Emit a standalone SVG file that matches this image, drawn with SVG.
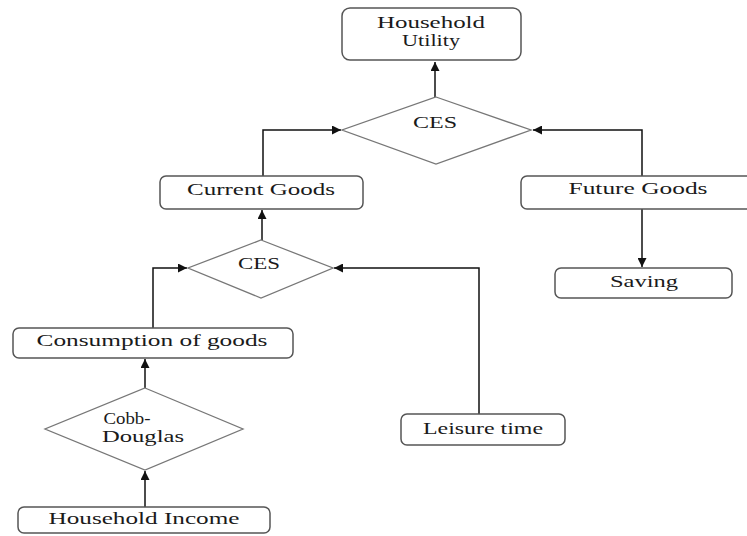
<svg xmlns="http://www.w3.org/2000/svg" width="747" height="536" viewBox="0 0 747 536">
<style>
.box{fill:#fff;stroke:#555;stroke-width:1.5}
.dia{fill:#fff;stroke:#777;stroke-width:1.3}
.t{font-family:"Liberation Serif","Times New Roman",serif;font-size:16px;fill:#1a1a1a;text-anchor:middle}
.c{fill:none;stroke:#111;stroke-width:1.5}
</style>
<defs>
<marker id="ah" viewBox="0 0 10 10" refX="10" refY="5" markerWidth="9" markerHeight="9" markerUnits="userSpaceOnUse" orient="auto">
<path d="M0,0 L10,5 L0,10 z" fill="#111"/>
</marker>
</defs>
<rect width="747" height="536" fill="#fff"/>
<g id="connectors">
<path class="c" d="M435,97 V62" marker-end="url(#ah)"/>
<path class="c" d="M263,176 V130 H341" marker-end="url(#ah)"/>
<path class="c" d="M642,176 V130 H533" marker-end="url(#ah)"/>
<path class="c" d="M262,240 V210" marker-end="url(#ah)"/>
<path class="c" d="M642,209 V267" marker-end="url(#ah)"/>
<path class="c" d="M153,328 V268 H187" marker-end="url(#ah)"/>
<path class="c" d="M479,414 V268 H334" marker-end="url(#ah)"/>
<path class="c" d="M145,388 V359" marker-end="url(#ah)"/>
<path class="c" d="M145,507 V471" marker-end="url(#ah)"/>
</g>
<g id="household-utility">
<rect class="box" x="342" y="8" width="179" height="52" rx="8"/>
<text class="t" x="431" y="28" textLength="108" lengthAdjust="spacingAndGlyphs">Household</text>
<text class="t" x="431" y="46" textLength="58" lengthAdjust="spacingAndGlyphs">Utility</text>
</g>
<g id="ces-top">
<polygon class="dia" points="436,97 531,130 436,164 342,130"/>
<text class="t" x="435" y="128" textLength="44" lengthAdjust="spacingAndGlyphs">CES</text>
</g>
<g id="current-goods">
<rect class="box" x="160" y="176" width="203" height="33" rx="6"/>
<text class="t" x="261" y="195" textLength="148" lengthAdjust="spacingAndGlyphs">Current Goods</text>
</g>
<g id="future-goods">
<rect class="box" x="521" y="176" width="240" height="33" rx="6"/>
<text class="t" x="638" y="194" textLength="139" lengthAdjust="spacingAndGlyphs">Future Goods</text>
</g>
<g id="saving">
<rect class="box" x="555" y="268" width="177" height="30" rx="6"/>
<text class="t" x="644" y="287" textLength="68" lengthAdjust="spacingAndGlyphs">Saving</text>
</g>
<g id="ces-mid">
<polygon class="dia" points="261,240 333,268 261,298 188,268"/>
<text class="t" x="259" y="269" textLength="42" lengthAdjust="spacingAndGlyphs">CES</text>
</g>
<g id="consumption">
<rect class="box" x="13" y="328" width="280" height="30" rx="6"/>
<text class="t" x="152" y="346" textLength="231" lengthAdjust="spacingAndGlyphs">Consumption of goods</text>
</g>
<g id="cobb-douglas">
<polygon class="dia" points="145,388 243,429 145,470 45,429"/>
<text class="t" x="127" y="424" textLength="47" lengthAdjust="spacingAndGlyphs">Cobb-</text>
<text class="t" x="143" y="442" textLength="82" lengthAdjust="spacingAndGlyphs">Douglas</text>
</g>
<g id="leisure-time">
<rect class="box" x="401" y="414" width="164" height="31" rx="6"/>
<text class="t" x="483" y="434" textLength="120" lengthAdjust="spacingAndGlyphs">Leisure time</text>
</g>
<g id="household-income">
<rect class="box" x="18" y="507" width="252" height="26" rx="6"/>
<text class="t" x="144" y="524" textLength="191" lengthAdjust="spacingAndGlyphs">Household Income</text>
</g>
</svg>
